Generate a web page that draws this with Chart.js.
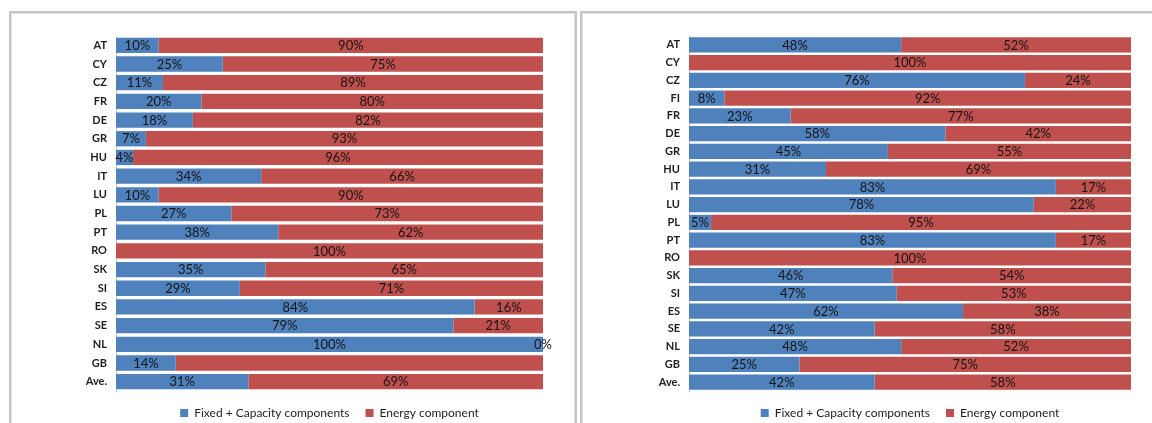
<!DOCTYPE html>
<html>
<head>
<meta charset="utf-8">
<script src="https://cdn.jsdelivr.net/npm/chart.js@4/dist/chart.umd.min.js"></script>
<style>
  html, body { margin: 0; padding: 0; background: #fff; }
  body { width: 1152px; height: 423px; position: relative; overflow: hidden; }
  .frame { position: absolute; border: 2px solid #c4c4c4; box-shadow: inset 0 0 0 1px #e2e2e2; box-sizing: border-box; }
  #frameA { left: 9px; top: 11px; width: 568px; height: 440px; }
  #frameB { left: 580px; top: 11px; width: 600px; height: 440px; }
  .box { position: absolute; }
  #boxA { left: 11px; top: 13px; width: 564px; height: 416px; }
  #boxB { left: 583px; top: 13px; width: 569px; height: 416px; }
</style>
</head>
<body>
<div class="frame" id="frameA"></div>
<div class="frame" id="frameB"></div>
<div class="box" id="boxA"><canvas id="chartA"></canvas></div>
<div class="box" id="boxB"><canvas id="chartB"></canvas></div>
<script>
// Left chart: countries and component shares (%)
const leftCountries = ['AT','CY','CZ','FR','DE','GR','HU','IT','LU','PL','PT','RO','SK','SI','ES','SE','NL','GB','Ave.'];
const leftFixed     = [10, 25, 11, 20, 18, 7, 4, 34, 10, 27, 38, 0, 35, 29, 84, 79, 100, 14, 31];
const leftEnergy    = [90, 75, 89, 80, 82, 93, 96, 66, 90, 73, 62, 100, 65, 71, 16, 21, 0, 86, 69];
const leftFixedNoLabel  = ['RO'];
const leftEnergyNoLabel = ['GB'];

// Right chart: countries and component shares (%)
const rightCountries = ['AT','CY','CZ','FI','FR','DE','GR','HU','IT','LU','PL','PT','RO','SK','SI','ES','SE','NL','GB','Ave.'];
const rightFixed     = [48, 0, 76, 8, 23, 58, 45, 31, 83, 78, 5, 83, 0, 46, 47, 62, 42, 48, 25, 42];
const rightEnergy    = [52, 100, 24, 92, 77, 42, 55, 69, 17, 22, 95, 17, 100, 54, 53, 38, 58, 52, 75, 58];
const rightFixedNoLabel  = ['CY','RO'];
const rightEnergyNoLabel = [];

const seriesNames = ['Fixed + Capacity components', 'Energy component'];
const BLUE = '#4f81bd';
const RED = '#c0504d';
const FONT = 'Lato, "Open Sans", sans-serif';

// Draws the percentage text centred in each bar segment
const segmentLabels = {
  id: 'segmentLabels',
  afterDatasetsDraw(chart) {
    const ctx = chart.ctx;
    const cats = chart.data.labels;
    ctx.save();
    ctx.font = '13px ' + FONT;
    ctx.fillStyle = '#141414';
    ctx.textAlign = 'center';
    ctx.textBaseline = 'middle';
    chart.data.datasets.forEach((ds, di) => {
      const meta = chart.getDatasetMeta(di);
      meta.data.forEach((bar, i) => {
        if (ds.noLabel.includes(cats[i])) return;
        const v = ds.data[i];
        const left = Math.min(bar.x, bar.base);
        const right = Math.max(bar.x, bar.base);
        ctx.fillText(v + '%', (left + right) / 2, bar.y + 0.5);
      });
    });
    ctx.restore();
  }
};

function makeChart(id, cats, fixed, energy, fixedNo, energyNo, axisWidth, padRight, barPct) {
  return new Chart(document.getElementById(id), {
    type: 'bar',
    data: {
      labels: cats,
      datasets: [
        { label: seriesNames[0], data: fixed, backgroundColor: BLUE, noLabel: fixedNo,
          barPercentage: barPct, categoryPercentage: 1 },
        { label: seriesNames[1], data: energy, backgroundColor: RED, noLabel: energyNo,
          barPercentage: barPct, categoryPercentage: 1 }
      ]
    },
    options: {
      indexAxis: 'y',
      responsive: true,
      maintainAspectRatio: false,
      animation: false,
      layout: { padding: { top: 23, right: padRight, bottom: 0, left: 0 } },
      scales: {
        x: {
          stacked: true, min: 0, max: 100, display: false
        },
        y: {
          stacked: true,
          grid: { display: false, drawTicks: false },
          border: { display: true, color: '#c8c8c8', width: 1 },
          ticks: { color: '#1e1e1e', font: { family: FONT, size: 11, weight: 'bold' }, padding: 9 },
          afterFit(scale) { scale.width = axisWidth; }
        }
      },
      plugins: {
        legend: {
          position: 'bottom',
          fullSize: false,
          labels: {
            boxWidth: 8, boxHeight: 8, padding: 16,
            color: '#1e1e1e',
            font: { family: FONT, size: 12 }
          }
        },
        tooltip: { enabled: false }
      }
    },
    plugins: [segmentLabels]
  });
}

makeChart('chartA', leftCountries, leftFixed, leftEnergy, leftFixedNoLabel, leftEnergyNoLabel, 105, 32, 0.82);
makeChart('chartB', rightCountries, rightFixed, rightEnergy, rightFixedNoLabel, rightEnergyNoLabel, 106, 21, 0.85);
</script>
</body>
</html>
